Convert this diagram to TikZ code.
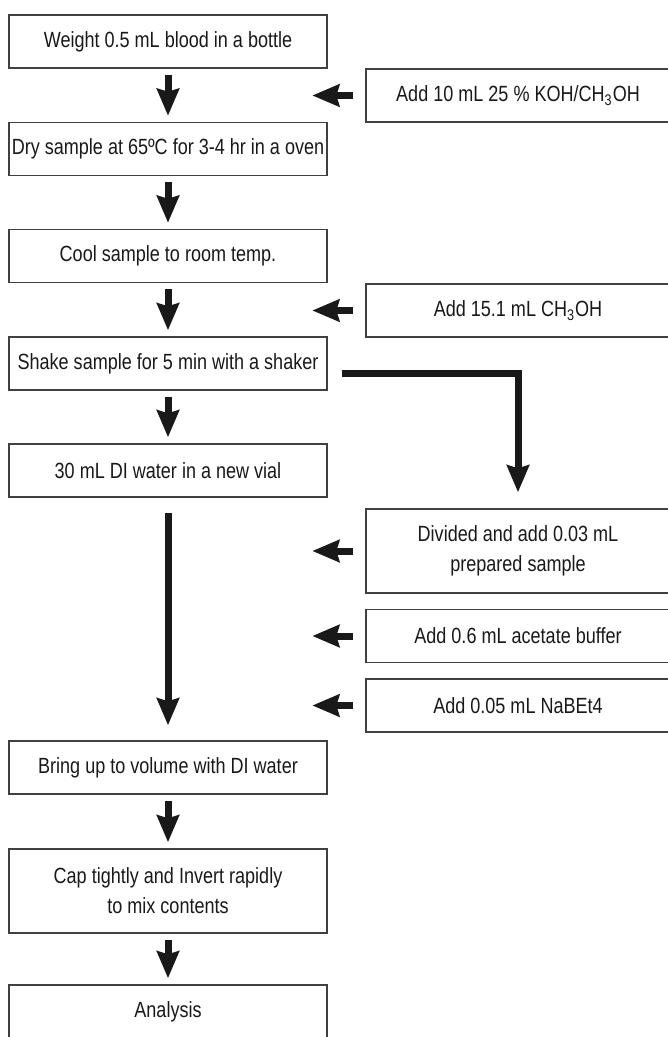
\documentclass[tikz,border=0pt]{standalone}
\usepackage{fontspec}
\setmainfont{Liberation Sans}[FakeStretch=0.82]
\usetikzlibrary{arrows.meta}

\tikzset{
  stepbox/.style={draw=black!75, line width=0.7pt, minimum width=159pt,
    minimum height=26.5pt, inner sep=0pt, align=center,
    font=\fontsize{11}{15}\selectfont, text=black!90},
  addbox/.style={stepbox, minimum width=152pt},
  fatarrow/.style={line width=3.5pt, draw=black!90,
    -{Stealth[width=11pt, length=13.5pt, inset=1.5pt]}},
}

\begin{document}
\begin{tikzpicture}[x=0.5pt, y=-0.5pt]
\useasboundingbox (0,0) rectangle (668,1037);
\clip (0,0) rectangle (668,1037);
% ---- main column ----
\node[stepbox] (weigh) at (168,41.5) {Weight 0.5 mL blood in a bottle};
\node[stepbox] (dry) at (168,149) {Dry sample at 65ºC for 3-4 hr in a oven};
\node[stepbox] (cool) at (168,256) {Cool sample to room temp.};
\node[stepbox] (shake) at (168,363.5) {Shake sample for 5 min with a shaker};
\node[stepbox] (vial) at (168,470.5) {30 mL DI water in a new vial};
\node[stepbox] (bring) at (168,767.5) {Bring up to volume with DI water};
\node[stepbox, minimum height=42pt] (cap) at (168,891)
  {Cap tightly and Invert rapidly\\to mix contents};
\node[stepbox] (analysis) at (168,1011.5) {Analysis};
% ---- reagents on the right ----
\node[addbox] (koh) at (518,95.5) {Add 10 mL 25 \% KOH/CH\textsubscript{3}OH};
\node[addbox] (meoh) at (518,310.5) {Add 15.1 mL CH\textsubscript{3}OH};
\node[addbox, minimum height=42pt] (divide) at (518,551)
  {Divided and add 0.03 mL\\prepared sample};
\node[addbox] (buffer) at (518,636) {Add 0.6 mL acetate buffer};
\node[addbox] (nabet) at (518,705.5) {Add 0.05 mL NaBEt4};
% ---- arrows ----
\foreach \a/\b in {weigh/dry, dry/cool, cool/shake, shake/vial, bring/cap, cap/analysis}
  \draw[fatarrow, shorten <=3pt, shorten >=3pt] (\a) -- (\b);
\draw[fatarrow, shorten <=7.5pt, shorten >=7.5pt] (vial) -- (bring);
\foreach \r in {koh, meoh, divide, buffer, nabet}
  \draw[fatarrow, shorten <=6pt] (\r.west) -- ++(-53,0);
% split off to the right-hand branch
\coordinate (split) at ([xshift=7pt, yshift=-4.75pt]shake.east);
\draw[fatarrow, shorten >=8pt] (split) -| (divide.north);
\end{tikzpicture}
\end{document}
